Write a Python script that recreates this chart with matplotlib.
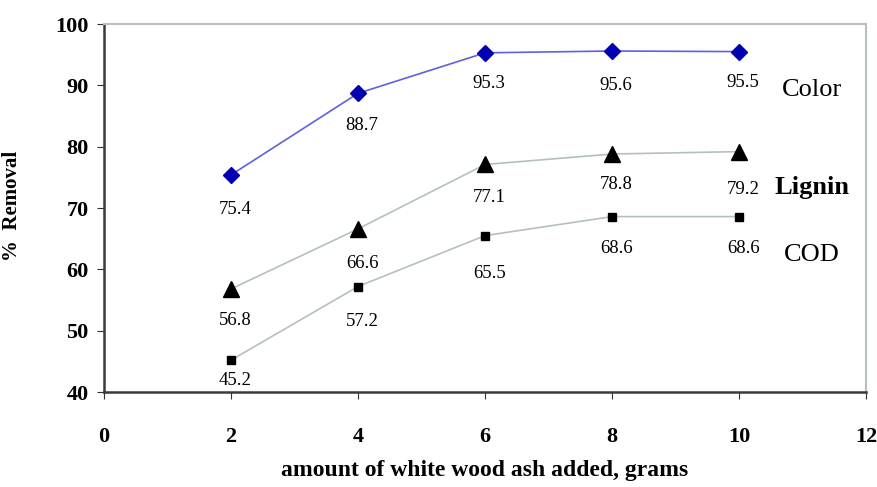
import matplotlib
matplotlib.use("Agg")
import matplotlib.pyplot as plt

# data
ash_grams = [2, 4, 6, 8, 10]
color_removal = [75.4, 88.7, 95.3, 95.6, 95.5]
lignin_removal = [56.8, 66.6, 77.1, 78.8, 79.2]
cod_removal = [45.2, 57.2, 65.5, 68.6, 68.6]
series_names = ["Color", "Lignin", "COD"]

plt.rcParams['font.family'] = ['Liberation Serif', 'DejaVu Serif']

fig = plt.figure(figsize=(8.77, 4.87), dpi=100)
ax = fig.add_axes([0.1186, 0.195, 0.8689, 0.7557])

grey_line = '#b4c0c0'
ax.plot(ash_grams, color_removal, color='#6060e0', lw=1.2,
        marker='D', ms=8, mfc='#0000b0', mec='#0000b0')
ax.plot(ash_grams, lignin_removal, color=grey_line, lw=1.2,
        marker='^', ms=11, mfc='black', mec='black')
ax.plot(ash_grams, cod_removal, color=grey_line, lw=1.2,
        marker='s', ms=6, mfc='black', mec='black')

# value labels below each marker (offsets in points)
def label_points(ys, dys):
    for x, y, dy in zip(ash_grams, ys, dys):
        ax.annotate(f"{y:.1f}", (x, y), xytext=(3, -dy), textcoords='offset points',
                    ha='center', va='center', fontsize=13.5)

label_points(color_removal, [25, 23, 22, 25, 22])
label_points(lignin_removal, [23, 25, 24, 22, 27])
label_points(cod_removal, [15, 25, 27, 23, 23])

ax.text(11.15, color_removal[-1] - 6.3, series_names[0], fontsize=19, ha='center', va='center')
ax.text(11.15, lignin_removal[-1] - 5.9, series_names[1], fontsize=19, fontweight='bold',
        ha='center', va='center')
ax.text(11.15, cod_removal[-1] - 6.2, series_names[2], fontsize=19, ha='center', va='center')

ax.set_xlim(0, 12)
ax.set_ylim(40, 100)
ax.set_xticks(range(0, 13, 2))
ax.set_yticks(range(40, 101, 10))
ax.tick_params(axis='x', direction='out', length=5, pad=20, labelsize=16, colors='#333333')
ax.tick_params(axis='y', direction='out', length=5, pad=6, labelsize=16, colors='#333333')
for lbl in ax.get_xticklabels() + ax.get_yticklabels():
    lbl.set_fontweight('bold')
    lbl.set_color('black')

for side in ['left', 'bottom']:
    ax.spines[side].set_color('#3a3a3a')
    ax.spines[side].set_linewidth(1.8)
for side in ['top', 'right']:
    ax.spines[side].set_color('#b8c0c0')
    ax.spines[side].set_linewidth(1.5)

ax.set_xlabel('amount of white wood ash added, grams', fontsize=17, fontweight='bold')
ax.xaxis.set_label_coords(0.499, -0.185)
ax.set_ylabel('%  Removal', fontsize=15, fontweight='bold')
ax.yaxis.set_label_coords(-0.108, 0.505)

fig.savefig('out.png', dpi=100)
